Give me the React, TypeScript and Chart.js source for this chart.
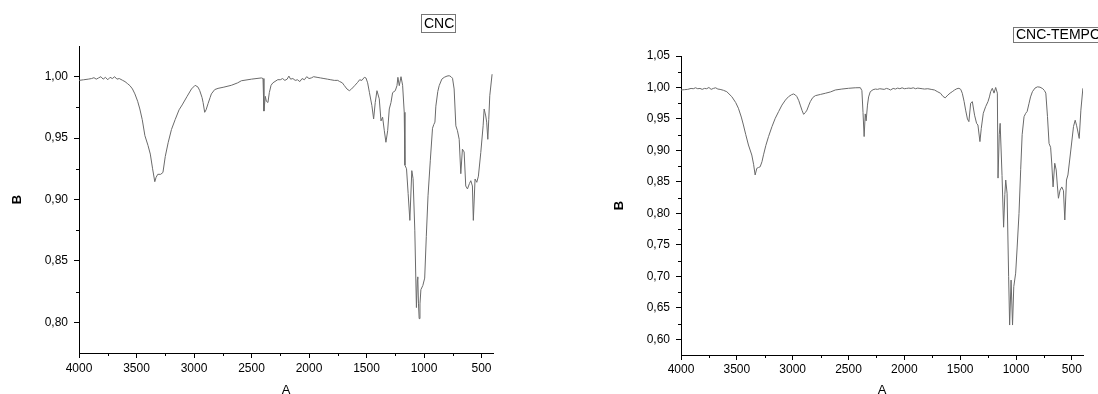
import { useEffect, useRef } from 'react';
import { Chart, registerables } from 'chart.js';

Chart.register(...registerables);

const FONT = '"Liberation Sans", Arial, Helvetica, sans-serif';

// ---------- data ----------
const X_TICKS = [4000, 3500, 3000, 2500, 2000, 1500, 1000, 500];
const X_MINOR_TICKS = [3750, 3250, 2750, 2250, 1750, 1250, 750];

const CNC_Y_TICKS = [0.8, 0.85, 0.9, 0.95, 1.0];
const CNC_Y_MINOR_TICKS = [0.825, 0.875, 0.925, 0.975];

const TEMPO_Y_TICKS = [0.6, 0.65, 0.7, 0.75, 0.8, 0.85, 0.9, 0.95, 1.0, 1.05];
const TEMPO_Y_MINOR_TICKS = [0.625, 0.675, 0.725, 0.775, 0.825, 0.875, 0.925, 0.975, 1.025];

const CNC_WAVENUMBER = [
  4000, 3960, 3920, 3890, 3870, 3850, 3830, 3810, 3790, 3770, 3750, 3730, 3710, 3690, 3670, 3650,
  3620, 3600, 3580, 3557, 3535, 3514, 3490, 3471, 3450, 3427, 3400, 3380, 3360, 3341, 3330, 3315,
  3290, 3270, 3250, 3224, 3196, 3164, 3130, 3103, 3060, 3022, 2990, 2965, 2950, 2930, 2921, 2907,
  2895, 2878, 2860, 2849, 2820, 2791, 2740, 2675, 2620, 2588, 2500, 2414, 2400, 2392, 2380, 2371,
  2357, 2345, 2330, 2314, 2271, 2250, 2230, 2210, 2190, 2175, 2160, 2140, 2120, 2100, 2080, 2060,
  2040, 2020, 2000, 1980, 1960, 1930, 1900, 1870, 1840, 1810, 1780, 1750, 1736, 1710, 1692, 1670,
  1649, 1630, 1600, 1577, 1560, 1540, 1519, 1505, 1490, 1475, 1453, 1438, 1424, 1409, 1389, 1374,
  1360, 1345, 1331, 1316, 1302, 1287, 1273, 1250, 1235, 1227, 1215, 1200, 1186, 1172, 1166, 1152,
  1138, 1123, 1106, 1095, 1080, 1066, 1058, 1054, 1048, 1042, 1035, 1027, 1010, 994, 980, 965,
  945, 926, 915, 905, 897, 880, 868, 845, 824, 800, 781, 765, 752, 738, 723, 709,
  694, 680, 666, 651, 637, 622, 605, 593, 579, 571, 556, 541, 527, 506, 486, 477,
  463, 455, 445, 437, 428, 408,
];
const CNC_TRANSMITTANCE = [
  0.997, 0.9975, 0.998, 0.9985, 0.9992, 0.998, 0.999, 1.0, 0.998, 0.9995, 0.9975, 0.9995, 0.9985, 1.0, 0.998, 0.9985,
  0.997, 0.996, 0.9945, 0.9927, 0.99, 0.986, 0.98, 0.9737, 0.965, 0.952, 0.944, 0.937, 0.925, 0.9145, 0.918, 0.9205,
  0.9205, 0.922, 0.935, 0.9466, 0.957, 0.965, 0.973, 0.977, 0.984, 0.99, 0.993, 0.9915, 0.9886, 0.983, 0.979, 0.971,
  0.973, 0.978, 0.983, 0.986, 0.9895, 0.9905, 0.9915, 0.993, 0.995, 0.9967, 0.998, 0.999, 0.9985, 0.972, 0.984, 0.98,
  0.979, 0.987, 0.993, 0.995, 0.9976, 0.9975, 0.9985, 0.997, 0.998, 1.0005, 0.998, 0.9985, 0.997, 0.9975, 0.996, 0.9985,
  0.9975, 1.0, 0.9985, 0.999, 1.0, 0.9995, 0.999, 0.9985, 0.998, 0.9975, 0.997, 0.997, 0.9962, 0.995, 0.9927, 0.99,
  0.9886, 0.99, 0.993, 0.9954, 0.9975, 0.997, 0.9995, 0.999, 0.995, 0.9873, 0.9764, 0.9656, 0.979, 0.9886, 0.982, 0.964,
  0.967, 0.956, 0.9466, 0.956, 0.9737, 0.979, 0.987, 0.9886, 0.9927, 0.9995, 0.9927, 1.0, 0.993, 0.971, 0.928, 0.925,
  0.905, 0.883, 0.9235, 0.917, 0.875, 0.812, 0.835, 0.837, 0.815, 0.803, 0.815, 0.8266, 0.83, 0.836, 0.87, 0.903,
  0.932, 0.958, 0.961, 0.963, 0.976, 0.988, 0.9927, 0.998, 0.9995, 1.0005, 1.0008, 1.0, 0.9987, 0.99, 0.96, 0.956,
  0.949, 0.921, 0.941, 0.9387, 0.911, 0.9086, 0.913, 0.9153, 0.911, 0.883, 0.9167, 0.914, 0.919, 0.9384, 0.96, 0.9737,
  0.968, 0.963, 0.949, 0.965, 0.9845, 1.002,
];

const TEMPO_WAVENUMBER = [
  4000, 3970, 3940, 3910, 3890, 3870, 3850, 3830, 3810, 3790, 3770, 3750, 3730, 3710, 3690, 3670,
  3650, 3620, 3590, 3545, 3510, 3486, 3460, 3441, 3420, 3396, 3366, 3350, 3336, 3321, 3305, 3291,
  3275, 3261, 3240, 3216, 3185, 3156, 3125, 3096, 3065, 3037, 3010, 2992, 2975, 2962, 2945, 2932,
  2915, 2902, 2887, 2872, 2855, 2842, 2820, 2797, 2750, 2707, 2660, 2618, 2560, 2499, 2440, 2394,
  2380, 2370, 2360, 2350, 2342, 2330, 2320, 2305, 2280, 2259, 2240, 2220, 2200, 2180, 2160, 2140,
  2124, 2100, 2080, 2060, 2040, 2020, 2000, 1980, 1960, 1940, 1920, 1900, 1880, 1860, 1840, 1820,
  1790, 1760, 1730, 1700, 1676, 1655, 1634, 1610, 1590, 1571, 1550, 1530, 1511, 1495, 1481, 1465,
  1451, 1435, 1422, 1406, 1391, 1371, 1353, 1341, 1323, 1311, 1293, 1272, 1251, 1238, 1227, 1212,
  1197, 1182, 1167, 1161, 1150, 1142, 1125, 1111, 1100, 1092, 1080, 1066, 1057, 1044, 1031, 1020,
  1003, 990, 973, 958, 945, 928, 913, 900, 883, 870, 853, 830, 808, 785, 760, 745,
  733, 718, 704, 690, 680, 668, 653, 640, 630, 620, 605, 590, 575, 563, 548, 535,
  509, 485, 470, 458, 449, 434, 419, 401,
];
const TEMPO_TRANSMITTANCE = [
  0.996, 0.9965, 0.997, 0.9985, 0.998, 0.9995, 0.998, 0.9985, 0.997, 0.9985, 0.998, 1.0, 0.997, 0.9985, 0.9995, 0.9975,
  0.997, 0.9955, 0.9933, 0.9854, 0.976, 0.967, 0.953, 0.9404, 0.925, 0.9086, 0.8927, 0.878, 0.861, 0.8716, 0.873, 0.874,
  0.882, 0.893, 0.908, 0.922, 0.938, 0.951, 0.962, 0.972, 0.98, 0.9854, 0.9885, 0.9897, 0.988, 0.9854, 0.979, 0.972,
  0.963, 0.9574, 0.96, 0.964, 0.972, 0.9775, 0.984, 0.987, 0.989, 0.9908, 0.993, 0.996, 0.9975, 0.9987, 0.9995, 0.9997,
  0.995, 0.96, 0.922, 0.958, 0.947, 0.972, 0.985, 0.9933, 0.9965, 0.9975, 0.997, 0.998, 0.9975, 0.997, 0.9985, 0.9975,
  0.996, 0.9985, 0.9975, 0.999, 0.998, 0.9995, 0.998, 0.9985, 0.999, 0.9985, 0.9995, 0.998, 0.999, 0.9985, 0.998, 0.9975,
  0.998, 0.997, 0.996, 0.993, 0.9908, 0.986, 0.9835, 0.988, 0.991, 0.9933, 0.996, 0.998, 0.9987, 0.997, 0.9908, 0.978,
  0.964, 0.95, 0.9457, 0.975, 0.9775, 0.956, 0.943, 0.9404, 0.914, 0.935, 0.959, 0.9695, 0.9775, 0.985, 0.9933, 0.9987,
  0.991, 1.0, 0.991, 0.856, 0.925, 0.943, 0.86, 0.778, 0.83, 0.853, 0.832, 0.7, 0.6226, 0.694, 0.6226, 0.6835,
  0.705, 0.745, 0.8, 0.87, 0.925, 0.9536, 0.959, 0.962, 0.975, 0.985, 0.9933, 0.999, 1.001, 1.0005, 0.998, 0.995,
  0.991, 0.9536, 0.911, 0.905, 0.88, 0.842, 0.8796, 0.869, 0.845, 0.824, 0.837, 0.842, 0.836, 0.7895, 0.853, 0.861,
  0.9007, 0.938, 0.948, 0.94, 0.9325, 0.919, 0.964, 0.9987,
];

// ---------- plugins ----------
const minorTicksPlugin = {
  id: 'minorTicks',
  afterDraw(chart: any, _args: any, opts: any) {
    const { ctx, chartArea, scales } = chart;
    ctx.save();
    ctx.strokeStyle = opts.color;
    ctx.lineWidth = 1;
    ctx.beginPath();
    for (const v of opts.xValues) {
      const px = Math.round(scales.x.getPixelForValue(v)) + 0.5;
      ctx.moveTo(px, chartArea.bottom);
      ctx.lineTo(px, chartArea.bottom + opts.length);
    }
    for (const v of opts.yValues) {
      const py = Math.round(scales.y.getPixelForValue(v)) + 0.5;
      ctx.moveTo(chartArea.left, py);
      ctx.lineTo(chartArea.left - opts.length, py);
    }
    ctx.stroke();
    ctx.restore();
  },
};

const boxTitlePlugin = {
  id: 'boxTitle',
  afterDraw(chart: any, _args: any, opts: any) {
    const ctx = chart.ctx;
    ctx.save();
    ctx.strokeStyle = opts.borderColor;
    ctx.lineWidth = 1;
    ctx.strokeRect(opts.left + 0.5, opts.top + 0.5, opts.width, opts.height);
    ctx.font = `${opts.size}px ${FONT}`;
    ctx.fillStyle = opts.color;
    ctx.textAlign = 'left';
    ctx.textBaseline = 'middle';
    ctx.fillText(opts.text, opts.left + opts.padX, opts.top + opts.height / 2 + 1);
    ctx.restore();
  },
};

const fmt = (v: number) => v.toFixed(2).replace('.', ',');

function makeConfig(p: {
  wn: number[];
  tr: number[];
  yMin: number;
  yMax: number;
  yTicks: number[];
  yMinor: number[];
  padding: { left: number; top: number; right: number; bottom: number };
  yWidth: number;
  xHeight: number;
  yTitlePad: number;
  xTickPad: number;
  title: { text: string; left: number; top: number; width: number; height: number };
}) {
  const axisColor = '#000';
  return {
    type: 'line' as const,
    data: {
      datasets: [
        {
          data: p.wn.map((x, i) => ({ x, y: p.tr[i] })),
          borderColor: '#6a6a6a',
          borderWidth: 1,
          pointRadius: 0,
          tension: 0,
          fill: false,
        },
      ],
    },
    options: {
      animation: false as const,
      responsive: false,
      events: [],
      layout: { padding: p.padding, autoPadding: false },
      plugins: {
        legend: { display: false },
        tooltip: { enabled: false },
        title: { display: false },
        minorTicks: { color: axisColor, length: 3, xValues: X_MINOR_TICKS, yValues: p.yMinor },
        boxTitle: {
          ...p.title,
          size: 14,
          padX: 3,
          color: '#000',
          borderColor: '#777',
        },
      },
      scales: {
        x: {
          type: 'linear' as const,
          position: 'bottom' as const,
          reverse: true,
          min: 400,
          max: 4000,
          afterBuildTicks: (scale: any) => {
            scale.ticks = X_TICKS.map((value) => ({ value }));
          },
          afterFit: (scale: any) => {
            scale.height = p.xHeight;
          },
          grid: { display: true, drawOnChartArea: false, drawTicks: true, tickLength: 5, tickColor: axisColor, tickWidth: 1 },
          border: { display: true, color: axisColor, width: 1 },
          ticks: {
            autoSkip: false,
            maxRotation: 0,
            padding: p.xTickPad,
            color: '#000',
            font: { family: FONT, size: 12 },
            callback: (v: any) => String(v),
          },
          title: {
            display: true,
            text: 'A',
            color: '#000',
            font: { family: FONT, size: 13, lineHeight: 0.5 },
            padding: { top: 0, bottom: 0 },
          },
        },
        y: {
          type: 'linear' as const,
          position: 'left' as const,
          min: p.yMin,
          max: p.yMax,
          afterBuildTicks: (scale: any) => {
            scale.ticks = p.yTicks.map((value) => ({ value }));
          },
          afterFit: (scale: any) => {
            scale.width = p.yWidth;
          },
          grid: { display: true, drawOnChartArea: false, drawTicks: true, tickLength: 5, tickColor: axisColor, tickWidth: 1 },
          border: { display: true, color: axisColor, width: 1 },
          ticks: {
            autoSkip: false,
            padding: 6,
            color: '#000',
            font: { family: FONT, size: 12 },
            callback: (v: any) => fmt(Number(v)),
          },
          title: {
            display: true,
            text: 'B',
            color: '#000',
            font: { family: FONT, size: 13, weight: 'bold' as const, lineHeight: 1.2 },
            padding: { top: p.yTitlePad, bottom: 0 },
          },
        },
      },
    },
    plugins: [minorTicksPlugin, boxTitlePlugin],
  };
}

function SpectrumChart({ config, left }: { config: any; left: number }) {
  const ref = useRef<HTMLCanvasElement | null>(null);
  useEffect(() => {
    if (!ref.current) return;
    const chart = new Chart(ref.current, config);
    return () => chart.destroy();
  }, [config]);
  return (
    <canvas
      ref={ref}
      width={549}
      height={394}
      style={{ position: 'absolute', left, top: 0, width: 549, height: 394, display: 'block' }}
    />
  );
}

const CNC_CONFIG = makeConfig({
  wn: CNC_WAVENUMBER,
  tr: CNC_TRANSMITTANCE,
  yMin: 0.775,
  yMax: 1.025,
  yTicks: CNC_Y_TICKS,
  yMinor: CNC_Y_MINOR_TICKS,
  padding: { left: 0, top: 46, right: 56, bottom: 0 },
  yWidth: 79,
  xHeight: 41,
  yTitlePad: 10,
  xTickPad: 3,
  title: { text: 'CNC', left: 421, top: 14, width: 34, height: 18 },
});

const TEMPO_CONFIG = makeConfig({
  wn: TEMPO_WAVENUMBER,
  tr: TEMPO_TRANSMITTANCE,
  yMin: 0.575,
  yMax: 1.05,
  yTicks: TEMPO_Y_TICKS,
  yMinor: TEMPO_Y_MINOR_TICKS,
  padding: { left: 0, top: 56, right: 15, bottom: 0 },
  yWidth: 132,
  xHeight: 39,
  yTitlePad: 63,
  xTickPad: 2,
  title: { text: 'CNC-TEMPO', left: 464, top: 27, width: 92, height: 15 },
});

export default function App() {
  return (
    <div
      style={{
        position: 'fixed',
        left: 0,
        top: 0,
        width: 1098,
        height: 394,
        background: '#fff',
        overflow: 'hidden',
      }}
    >
      <SpectrumChart config={CNC_CONFIG} left={0} />
      <SpectrumChart config={TEMPO_CONFIG} left={549} />
    </div>
  );
}
